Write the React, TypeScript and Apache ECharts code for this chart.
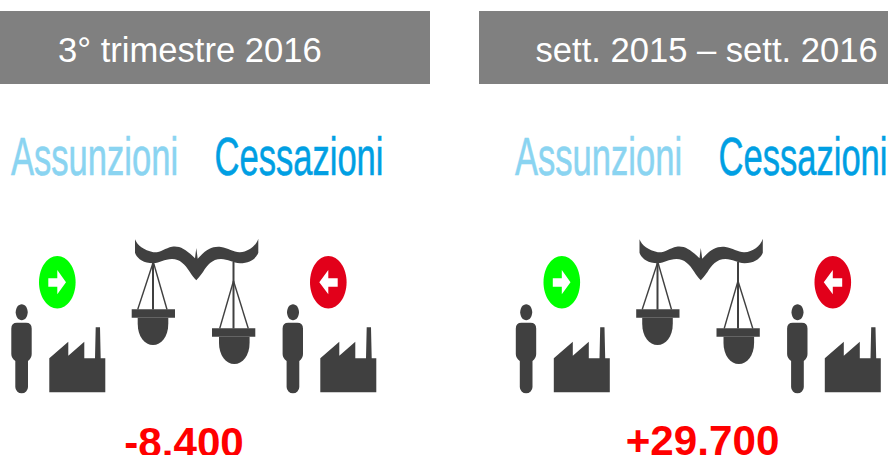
import React, { useEffect, useRef } from "react";
import * as echarts from "echarts";

const panelTitles = ["3° trimestre 2016", "sett. 2015 – sett. 2016"];
const panelValues = ["-8.400", "+29.700"];
const hireLabels = ["Assunzioni", "Assunzioni"];
const exitLabels = ["Cessazioni", "Cessazioni"];

const personPath =
  "M17 322.7H26Q31.7 322.7 31.7 328.5V354Q31.7 358 28 361V387A6.35 6.35 0 0 1 15.3 387V361Q11.3 358 11.3 354V328.5Q11.3 322.7 17 322.7Z";
const factoryPath =
  "M0 30.9L19 14.4V28.4L35 14.4V30.9H45.7L46.4 0H50.7L51.4 30.9H56V65H0Z";
const beamPath =
  "M135 239.3C137 245 144 250.5 153.3 252.2C160 253 165 248 172 246.7C180 245.5 186 249.5 195 258.2L196.3 248L197.7 258.8C206 249.5 212 246 221 247C228 248 234 252.5 240 252.2C248 252 256 246 258.3 238.7V252.7C256 258.5 250 263.2 240 263.2C233 263.2 228 259 221 259C212 259 207 265.5 203 272C200 276 198 278.5 196.3 280.2C194 278 192 275.5 189.5 271.5C185 264.5 180 259 172 259C164 259 160 263.2 153.3 263.2C143 263.2 137 258.5 135 252.7Z";

const bowlPath = "M0 0H30.6V6C30.6 19 23.5 27.3 15.3 27.3C7.1 27.3 0 19 0 6Z";

echarts.graphic.registerShape("personIcon", echarts.graphic.extendPath(personPath, {}));
echarts.graphic.registerShape("factoryIcon", echarts.graphic.extendPath(factoryPath, {}));
echarts.graphic.registerShape("beamIcon", echarts.graphic.extendPath(beamPath, {}));
echarts.graphic.registerShape("bowlIcon", echarts.graphic.extendPath(bowlPath, {}));

const DARK = "#404040";
const FONT = '"Liberation Sans", Arial, sans-serif';

const stroke = (x1: number, y1: number, x2: number, y2: number, lineWidth = 1.4) => ({
  type: "line",
  shape: { x1, y1, x2, y2 },
  style: { stroke: DARK, lineWidth },
});

const rect = (x: number, y: number, width: number, height: number, fill: string) => ({
  type: "rect",
  shape: { x, y, width, height },
  style: { fill },
});

const arrow = (points: number[][]) => ({
  type: "polygon",
  shape: { points },
  style: { fill: "#ffffff" },
});

const scale = () => ({
  type: "group",
  children: [
    { type: "beamIcon", style: { fill: DARK } },
    stroke(153.3, 262, 137.7, 309.5),
    stroke(153.3, 262, 167, 309.5),
    stroke(153, 262, 153, 309.5, 2),
    rect(131.7, 309.3, 43.3, 8.4, DARK),
    { type: "bowlIcon", x: 137.7, y: 317.7, style: { fill: DARK } },
    stroke(233.5, 262, 233.5, 328.5, 2),
    stroke(233.5, 281, 219.7, 328.5),
    stroke(233.5, 281, 248.3, 328.5),
    rect(212, 328.3, 43.3, 8.4, DARK),
    { type: "bowlIcon", x: 219, y: 336.7, style: { fill: DARK } },
  ],
});

const icons = (x: number) => ({
  type: "group",
  x,
  y: 0,
  children: [
    { type: "ellipse", shape: { cx: 21.7, cy: 312.2, rx: 6, ry: 8 }, style: { fill: DARK } },
    { type: "personIcon", style: { fill: DARK } },
    { type: "factoryIcon", x: 49.3, y: 327.3, style: { fill: DARK } },
    { type: "ellipse", shape: { cx: 57.3, cy: 282.2, rx: 18.3, ry: 26.2 }, style: { fill: "#00ff00" } },
    arrow([[48.3, 278.3], [57.3, 278.3], [57.3, 270], [66, 282.2], [57.3, 294.3], [57.3, 286.7], [48.3, 286.7]]),
    scale(),
    { type: "ellipse", shape: { cx: 21.7 + 271.3, cy: 312.2, rx: 6, ry: 8 }, style: { fill: DARK } },
    { type: "personIcon", x: 271.3, style: { fill: DARK } },
    { type: "factoryIcon", x: 320.3, y: 327.3, style: { fill: DARK } },
    { type: "ellipse", shape: { cx: 328.3, cy: 282.2, rx: 18.3, ry: 26.2 }, style: { fill: "#e2001a" } },
    arrow([[337.7, 278.3], [328.3, 278.3], [328.3, 270], [319.3, 282.2], [328.3, 294.3], [328.3, 286.7], [337.7, 286.7]]),
  ],
});

const squeezed = (text: string, x: number, fill: string, scaleX: number) => ({
  type: "text",
  x,
  y: 157,
  scaleX,
  style: {
    text,
    fill,
    stroke: fill,
    lineWidth: 0.6,
    font: `54px ${FONT}`,
    textAlign: "left",
    textVerticalAlign: "middle",
  },
});

const headerX = [0, 479];
const headerW = [430, 409];
const titleX = [58, 535.5];
const labelX = [11, 515];
const exitX = [214.5, 718.5];
const valueX = [184, 702.5];
const valueY = [442, 440];
const iconX = [0, 504.5];

const panel = (i: number) => [
  rect(headerX[i], 11, headerW[i], 73, "#808080"),
  {
    type: "text",
    x: titleX[i],
    y: 50,
    style: {
      text: panelTitles[i],
      fill: "#ffffff",
      font: `34.6px ${FONT}`,
      textAlign: "left",
      textVerticalAlign: "middle",
    },
  },
  squeezed(hireLabels[i], labelX[i], "#8ad4f1", 0.64),
  squeezed(exitLabels[i], exitX[i], "#009fe3", 0.64),
  icons(iconX[i]),
  {
    type: "text",
    x: valueX[i],
    y: valueY[i],
    style: {
      text: panelValues[i],
      fill: "#ff0000",
      font: `bold 42.2px ${FONT}`,
      textAlign: "center",
      textVerticalAlign: "middle",
    },
  },
];

export default function App() {
  const ref = useRef<HTMLDivElement>(null);
  useEffect(() => {
    document.body.style.margin = "0";
    const chart = echarts.init(ref.current!, null, { renderer: "svg" });
    chart.setOption({
      animation: false,
      backgroundColor: "#ffffff",
      graphic: { elements: [...panel(0), ...panel(1)] },
    });
    return () => chart.dispose();
  }, []);
  return <div ref={ref} style={{ width: 888, height: 455, overflow: "hidden" }} />;
}
